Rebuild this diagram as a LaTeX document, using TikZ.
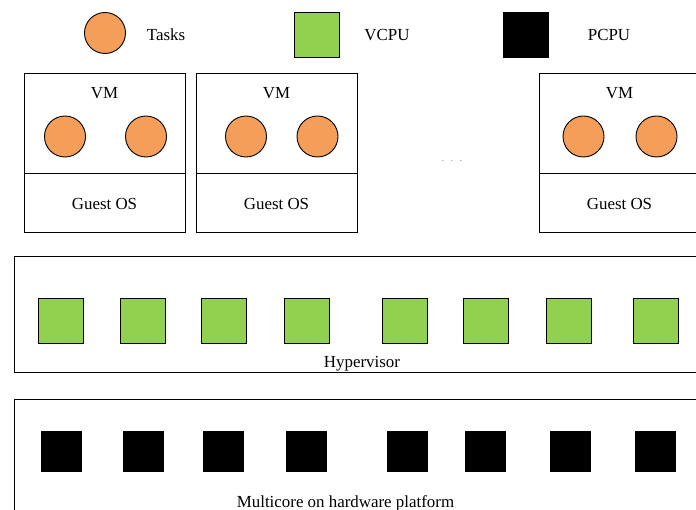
\documentclass[tikz,border=0pt]{standalone}
\usepackage{fontspec}
\setmainfont{Liberation Serif}
\definecolor{taskorange}{HTML}{F59E5A}
\definecolor{vcpugreen}{HTML}{92D050}
\tikzset{
  lbl/.style={inner sep=0pt, font=\fontsize{16.9}{19}\selectfont},
  task/.style={circle, draw=black, line width=0.9pt, fill=taskorange, minimum size=41pt, inner sep=0pt},
  vcpu/.style={rectangle, draw=black, line width=0.9pt, fill=vcpugreen, minimum size=45pt, inner sep=0pt},
  pcpu/.style={rectangle, fill=black, minimum size=41pt, inner sep=0pt},
  frame/.style={draw=black, line width=0.9pt},
}
\begin{document}
\begin{tikzpicture}[x=1pt,y=-1pt]
\useasboundingbox (0,0) rectangle (696,510);
\clip (0,0) rectangle (696,510);

% legend
\node[task] (legtask) at (105,33) {};
\node[lbl] (legtasktxt) at (166,35) {Tasks};
\node[vcpu] (legvcpu) at (316.5,34.5) {};
\node[lbl] (legvcputxt) at (387,35) {VCPU};
\node[pcpu, minimum size=46pt] (legpcpu) at (526,35) {};
\node[lbl] (legpcputxt) at (609,35) {PCPU};

% virtual machines
\foreach \name/\x/\ca/\cb in {vma/24/65/146, vmb/196/246/317.5, vmc/539/583.5/656.5} {
  \draw[frame] (\x,73) rectangle ++(161,159);
  \draw[frame] (\x,173) -- ++(161,0);
  \node[lbl] (\name-title) at (\x+80.5,93.5) {VM};
  \node[task] (\name-t1) at (\ca,136.5) {};
  \node[task] (\name-t2) at (\cb,136.5) {};
  \node[lbl] (\name-os) at (\x+80.5,203.5) {Guest OS};
}
\node[inner sep=0pt, font=\fontsize{7}{8}\selectfont] (dots) at (452,161) {.\hspace{7.2pt}.\hspace{7.2pt}.};

% hypervisor layer
\draw[frame] (14,256) rectangle (720,372);
\node[lbl] (hyptxt) at (362,363.5) {Hypervisor};
\foreach \i/\x in {1/60.5,2/142.5,3/223.5,4/306.5,5/405,6/485.5,7/568.5,8/655.5} {
  \node[vcpu] (v\i) at (\x,320.5) {};
}

% hardware layer
\draw[frame] (14,399) rectangle (720,540);
\node[lbl] (hwtxt) at (345.5,503.5) {Multicore on hardware platform};
\foreach \i/\x in {1/61,2/143.5,3/223.5,4/306.5,5/407.5,6/485.5,7/570.5,8/655.5} {
  \node[pcpu] (p\i) at (\x,451.5) {};
}
\end{tikzpicture}
\end{document}
